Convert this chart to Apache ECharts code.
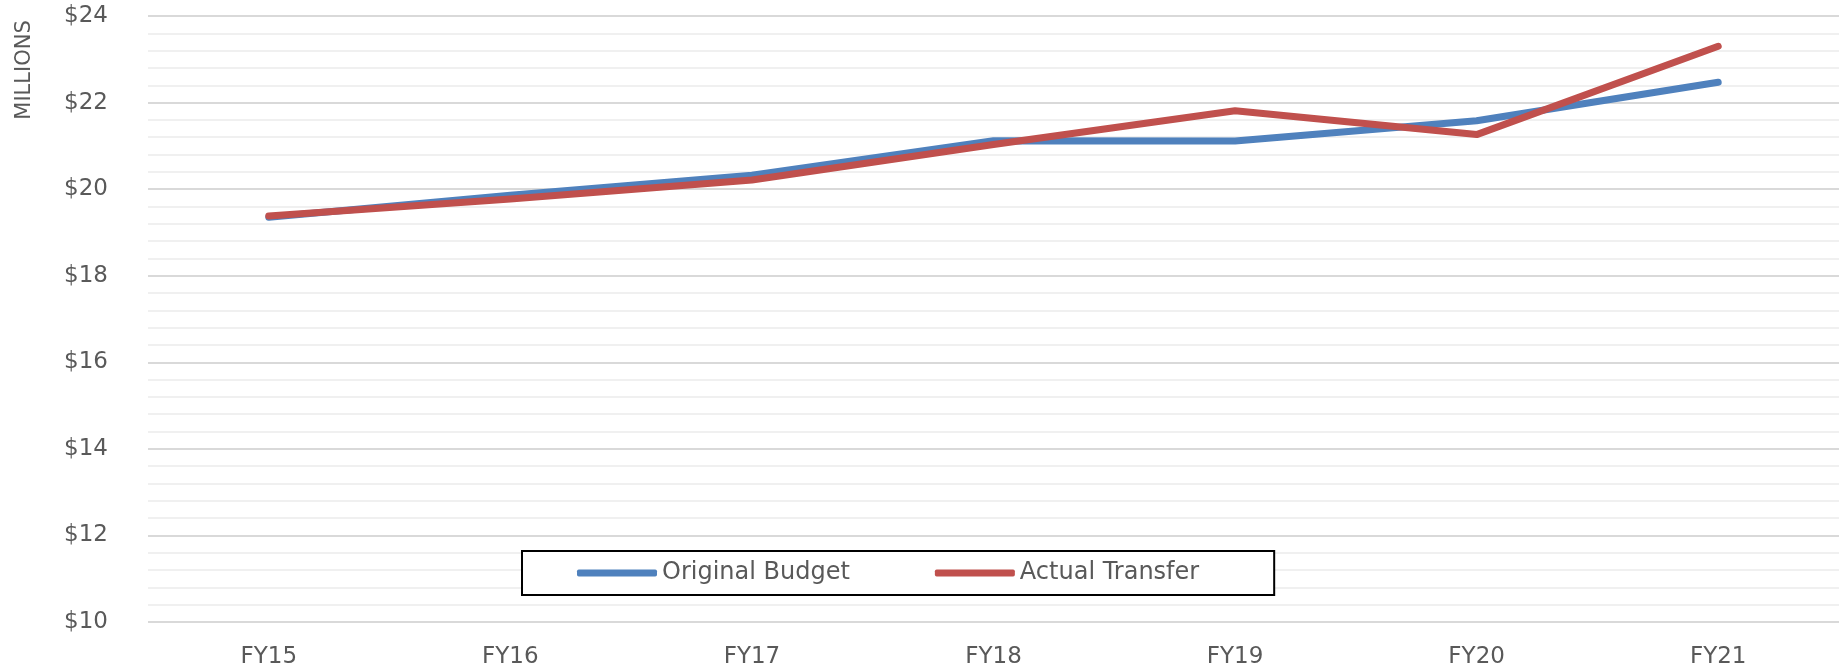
<!DOCTYPE html>
<html>
<head>
<meta charset="utf-8">
<script src="https://cdn.jsdelivr.net/npm/echarts@6/dist/echarts.min.js"></script>
<style>
    html,body{margin:0;padding:0;background:#fff;}
    #show{width:1839px;height:669px;}
</style>
</head>
<body>
<div id="show"></div>
<script>
    // fiscal years
    var years = ['FY15', 'FY16', 'FY17', 'FY18', 'FY19', 'FY20', 'FY21'];
    // millions of dollars
    var budget = [19.35, 19.86, 20.32, 21.12, 21.11, 21.58, 22.47];
    var transfer = [19.38, 19.77, 20.21, 21.03, 21.81, 21.26, 23.30];
    var seriesNames = ['Original Budget', 'Actual Transfer'];
    var yMin = 10, yMax = 24, yStep = 2;

    var myChart = echarts.init(document.getElementById('show'));
    var txtColor = '#595959';
    var fontName = 'DejaVu Sans';

    var option = {
        animation: false,
        color: ['#4F81BD', '#C0504D'],
        grid: {
            left: 148,
            top: 16,
            width: 1709,
            bottom: 44
        },
        legend: {
            data: seriesNames,
            left: 522,
            top: 551,
            orient: 'horizontal',
            icon: 'roundRect',
            itemWidth: 80,
            itemHeight: 7,
            itemGap: 85,
            padding: [10, 75, 10, 55],
            borderColor: '#000',
            borderWidth: 2,
            backgroundColor: '#fff',
            textStyle: {
                color: txtColor,
                fontSize: 24,
                fontFamily: fontName
            }
        },
        graphic: [{
            type: 'text',
            x: 25,
            y: 70,
            rotation: Math.PI / 2,
            style: {
                text: 'MILLIONS',
                fill: txtColor,
                fontSize: 21,
                fontFamily: fontName,
                align: 'center',
                verticalAlign: 'middle'
            }
        }],
        xAxis: {
            type: 'category',
            data: years,
            boundaryGap: true,
            axisLine: {show: false},
            axisTick: {show: false},
            axisLabel: {
                color: txtColor,
                fontSize: 23,
                fontFamily: fontName,
                margin: 24
            }
        },
        yAxis: {
            type: 'value',
            min: yMin,
            max: yMax,
            interval: yStep,
            axisLine: {show: false},
            axisTick: {show: false},
            axisLabel: {
                color: txtColor,
                fontSize: 23,
                fontFamily: fontName,
                margin: 40,
                formatter: function (v) {
                    return '$' + v;
                }
            },
            splitLine: {
                lineStyle: {color: '#d9d9d9', width: 2}
            },
            minorTick: {show: false, splitNumber: 5},
            minorSplitLine: {
                show: true,
                lineStyle: {color: '#f0f0f0', width: 2}
            }
        },
        series: [
            {
                name: seriesNames[0],
                type: 'line',
                data: budget,
                symbol: 'none',
                lineStyle: {width: 7, cap: 'round', join: 'round'}
            },
            {
                name: seriesNames[1],
                type: 'line',
                data: transfer,
                symbol: 'none',
                lineStyle: {width: 7, cap: 'round', join: 'round'}
            }
        ]
    };

    myChart.setOption(option);
</script>
</body>
</html>
